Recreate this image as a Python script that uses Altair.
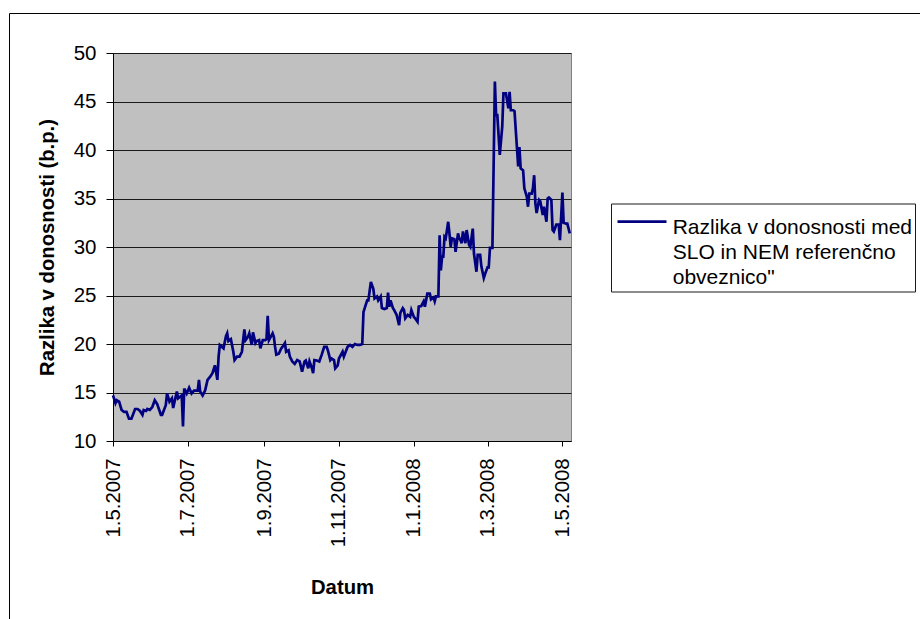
import altair as alt
import pandas as pd

# Yield spread between Slovenian and German benchmark bonds (basis points),
# days counted from 1.5.2007
days = [
    0, 2, 3, 5, 7, 9, 11, 13, 15, 18, 20, 22, 24, 25, 27, 28, 30, 32, 34, 36,
    39, 40, 43, 44, 46, 48, 49, 52, 53, 56, 57, 58, 60, 62, 64, 66, 69, 70, 71, 73,
    75, 77, 79, 81, 83, 85, 86, 87, 90, 92, 93, 94, 96, 98, 99, 101, 103, 105, 106, 107,
    108, 110, 111, 113, 114, 116, 117, 119, 120, 122, 124, 125, 126, 127, 130, 131, 132, 133, 135, 137,
    138, 140, 141, 143, 144, 146, 148, 150, 152, 154, 156, 157, 159, 160, 162, 163, 164, 166, 168, 170,
    172, 174, 175, 177, 178, 180, 181, 183, 184, 187, 188, 191, 193, 195, 197, 199, 201, 203, 204, 205,
    207, 208, 210, 212, 213, 215, 216, 218, 219, 221, 223, 224, 225, 226, 228, 229, 231, 233, 234, 236,
    237, 238, 240, 242, 243, 245, 246, 248, 249, 251, 253, 254, 255, 256, 258, 259, 261, 262, 263, 265,
    266, 267, 268, 269, 270, 271, 273, 274, 275, 276, 278, 279, 281, 282, 283, 284, 285, 287, 288, 290,
    291, 293, 294, 296, 297, 299, 300, 302, 303, 305, 306, 307, 309, 311, 312, 313, 315, 317, 318, 320,
    322, 323, 324, 326, 327, 329, 330, 331, 332, 334, 335, 337, 338, 339, 341, 342, 343, 344, 345, 347,
    348, 350, 351, 353, 354, 355, 357, 358, 359, 361, 363, 364, 366, 367, 369, 370, 372,
]
spread = [
    14.7, 13.9, 14.2, 14.05, 13.2, 13.0, 13.0, 12.3, 12.3, 13.3, 13.3, 13.1, 12.7, 13.2, 13.1, 13.3, 13.2, 13.5, 14.2, 13.8,
    12.7, 12.7, 13.7, 14.9, 14.05, 14.4, 13.4, 15.1, 14.4, 14.7, 11.5, 15.4, 14.9, 15.5, 14.9, 15.2, 15.2, 16.3, 15.1, 14.7,
    15.2, 16.3, 16.6, 17.0, 17.8, 16.3, 18.7, 19.9, 19.55, 20.8, 21.1, 20.3, 20.5, 19.2, 18.35, 18.7, 18.7, 19.2, 20.4, 21.5,
    20.4, 20.75, 21.1, 19.9, 21.2, 20.1, 20.3, 20.4, 19.55, 20.4, 20.4, 20.5, 22.9, 20.4, 21.1, 20.75, 19.7, 18.9, 19.0, 19.55,
    19.7, 20.1, 19.2, 19.35, 18.7, 18.2, 17.95, 18.35, 18.2, 17.15, 18.2, 18.3, 17.5, 18.2, 17.5, 17.0, 18.35, 18.3, 18.2, 18.9,
    19.7, 19.7, 19.35, 18.35, 18.5, 18.35, 17.5, 17.8, 18.5, 19.2, 18.7, 19.7, 19.9, 19.7, 20.0, 19.9, 19.9, 20.0, 23.3, 23.7,
    24.5, 24.5, 26.4, 25.7, 24.7, 24.9, 24.5, 24.9, 23.7, 23.6, 23.7, 25.3, 23.85, 24.5, 23.7, 23.5, 23.0, 21.95, 23.2, 23.7,
    23.5, 22.65, 23.0, 22.8, 23.5, 22.8, 22.65, 22.3, 23.85, 23.9, 24.4, 23.85, 24.5, 25.2, 25.2, 24.6, 24.8, 24.4, 24.9, 24.9,
    31.2, 27.6, 29.0, 29.0, 31.05, 30.9, 32.6, 31.4, 30.0, 30.9, 30.8, 29.5, 31.4, 30.9, 30.7, 30.4, 31.6, 30.4, 31.75, 30.2,
    30.0, 31.9, 29.3, 27.45, 29.2, 29.2, 28.0, 26.8, 27.2, 27.9, 27.9, 29.9, 29.9, 47.05, 43.6, 43.6, 39.5, 42.4, 45.85, 45.85,
    44.3, 46.0, 44.1, 44.1, 44.0, 40.2, 38.3, 40.3, 38.1, 37.9, 36.05, 35.2, 34.15, 35.5, 35.5, 36.05, 37.4, 34.5, 33.5, 34.85,
    34.7, 33.3, 34.15, 32.6, 35.0, 35.1, 34.85, 31.75, 31.6, 32.3, 32.3, 30.7, 35.6, 32.5, 32.4, 32.4, 31.4,
]

series_lines = ["Razlika v donosnosti med", "SLO in NEM referenčno", 'obveznico"']
series_name = "|".join(series_lines)

y_ticks = [10, 15, 20, 25, 30, 35, 40, 45, 50]
x_ticks = ["2007-05-01", "2007-07-01", "2007-09-01", "2007-11-01",
           "2008-01-01", "2008-03-01", "2008-05-01"]

start = pd.Timestamp("2007-05-01")
df = pd.DataFrame({
    "datum": [(start + pd.Timedelta(days=d)).strftime("%Y-%m-%d") for d in days],
    "razlika": spread,
    "serija": series_name,
})


def utc_dt(s):
    t = pd.Timestamp(s)
    return alt.DateTime(year=t.year, month=t.month, date=t.day, utc=True)


FONT = "Liberation Sans"

line = alt.Chart(df).mark_line(strokeWidth=2.7).encode(
    x=alt.X(
        "datum:T",
        title="Datum",
        scale=alt.Scale(type="utc", domain=[utc_dt("2007-05-01"), utc_dt("2008-05-08")]),
        axis=alt.Axis(
            values=[utc_dt(s) for s in x_ticks],
            labelExpr="utcFormat(datum.value, '%-d.%-m.%Y')",
            labelAngle=270,
            labelAlign="right",
            labelBaseline="middle",
            labelFontSize=20.3,
            labelPadding=12,
            tickSize=5,
            grid=False,
            titleFontSize=20.3,
            titleFontWeight="bold",
            titlePadding=31,
        ),
    ),
    y=alt.Y(
        "razlika:Q",
        title="Razlika v donosnosti (b.p.)",
        scale=alt.Scale(domain=[10, 50], nice=False, zero=False),
        axis=alt.Axis(
            values=y_ticks,
            labelFontSize=20.5,
            labelPadding=10,
            tickSize=7,
            grid=True,
            gridColor="#1a1a1a",
            gridOpacity=1,
            titleFontSize=20.3,
            titleFontWeight="bold",
            titlePadding=16,
        ),
    ),
    color=alt.Color(
        "serija:N",
        scale=alt.Scale(range=["#000080"]),
        legend=alt.Legend(
            title=None,
            orient="none",
            legendX=498,
            legendY=150.5,
            fillColor="white",
            strokeColor="#1a1a1a",
            padding=3,
            # long horizontal stroke, drawn a little below the first label line
            symbolType="M-6.125,1.175L6.125,1.175",
            symbolSize=64,
            symbolOffset=17.5,
            symbolStrokeWidth=2.7,
            labelFontSize=21,
            labelBaseline="top",
            labelOffset=20.2,
            labelLimit=400,
            labelExpr="split(datum.label, '|')",
        ),
    ),
)

# thin frame around the whole chart area
frame = alt.Chart(pd.DataFrame({"f": [0]})).mark_rect(
    fill="transparent", stroke="#000000", strokeWidth=1
).encode(
    x=alt.value(-103.5), x2=alt.value(820),
    y=alt.value(-39.5), y2=alt.value(590),
)

chart = alt.layer(frame, line).properties(
    width=458,
    height=388,
    autosize=alt.AutoSizeParams(type="none"),
    padding={"left": 113, "top": 53, "right": 349, "bottom": 178},
    background="white",
).configure(
    font=FONT,
    style={"guide-label": {"lineHeight": 25}},
).configure_view(
    fill="#C0C0C0",
    stroke="#808080",
    strokeWidth=1,
).configure_axis(
    domainColor="#000000",
    tickColor="#000000",
    labelColor="#000000",
    titleColor="#000000",
    labelFont=FONT,
    titleFont=FONT,
).configure_legend(
    labelFont=FONT,
    labelColor="#000000",
)

chart.save("out.html", embed_options={"renderer": "svg", "actions": False})
